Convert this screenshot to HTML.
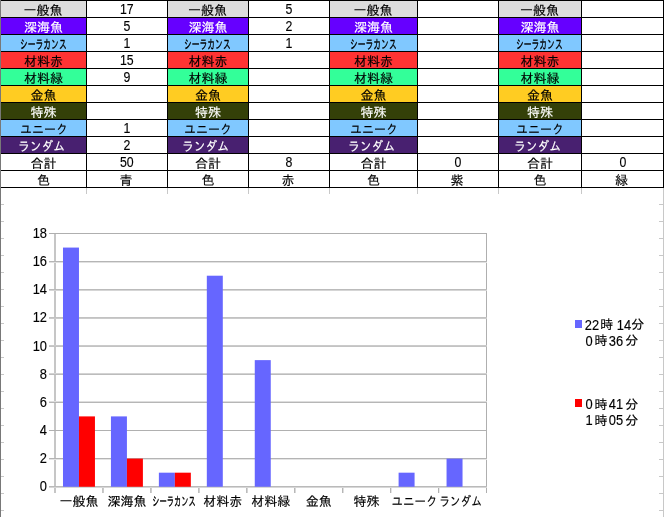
<!DOCTYPE html>
<html lang="ja"><head><meta charset="utf-8"><title>sheet</title>
<style>
html,body{margin:0;padding:0;background:#fff;}
body{width:665px;height:517px;position:relative;overflow:hidden;font-family:"Liberation Sans","IPAGothic","Noto Sans CJK JP",sans-serif;font-size:13px;color:#000;-webkit-text-stroke:0.15px;}
div{position:absolute;box-sizing:border-box;}
.c{height:16px;line-height:16px;text-align:center;white-space:nowrap;overflow:hidden;}
.c span{display:inline-block;position:relative;top:2px;}
.n{font-size:14px;}
.n span{transform:scaleX(0.88);top:0px;}
.k span{left:-1px;}
.g{background:#c8c8c8;}
.ax{background:#b8b8b8;}
.yl{font-size:14px;width:30px;text-align:right;height:14px;line-height:14px;left:16.5px;transform:scaleX(0.92);transform-origin:100% 50%;}
.xl{width:0;height:16px;line-height:16px;top:494px;white-space:nowrap;}
.xl span{position:absolute;left:0;top:0;transform:translateX(-50%);}
.ld,.lk{width:0;height:16px;line-height:16px;white-space:nowrap;}
.ld span,.lk span{position:absolute;left:0;top:0;transform:translateX(-50%);}
.ld{font-size:14px;}
.ld span{transform:translateX(-50%) scaleX(0.92);}
</style></head><body>

<div class="g" style="left:663px;top:188px;width:1px;height:329px"></div>
<div class="g" style="left:86px;top:188px;width:1px;height:6px"></div>
<div class="g" style="left:167px;top:188px;width:1px;height:6px"></div>
<div class="g" style="left:248px;top:188px;width:1px;height:6px"></div>
<div class="g" style="left:329px;top:188px;width:1px;height:6px"></div>
<div class="g" style="left:417px;top:188px;width:1px;height:6px"></div>
<div class="g" style="left:498px;top:188px;width:1px;height:6px"></div>
<div class="g" style="left:581px;top:188px;width:1px;height:6px"></div>
<div class="g" style="left:1px;top:204px;width:3px;height:1px"></div>
<div class="g" style="left:659px;top:204px;width:4px;height:1px"></div>
<div class="g" style="left:1px;top:221px;width:3px;height:1px"></div>
<div class="g" style="left:659px;top:221px;width:4px;height:1px"></div>
<div class="g" style="left:1px;top:238px;width:3px;height:1px"></div>
<div class="g" style="left:659px;top:238px;width:4px;height:1px"></div>
<div class="g" style="left:1px;top:255px;width:3px;height:1px"></div>
<div class="g" style="left:659px;top:255px;width:4px;height:1px"></div>
<div class="g" style="left:1px;top:272px;width:3px;height:1px"></div>
<div class="g" style="left:659px;top:272px;width:4px;height:1px"></div>
<div class="g" style="left:1px;top:289px;width:3px;height:1px"></div>
<div class="g" style="left:659px;top:289px;width:4px;height:1px"></div>
<div class="g" style="left:1px;top:306px;width:3px;height:1px"></div>
<div class="g" style="left:659px;top:306px;width:4px;height:1px"></div>
<div class="g" style="left:1px;top:323px;width:3px;height:1px"></div>
<div class="g" style="left:659px;top:323px;width:4px;height:1px"></div>
<div class="g" style="left:1px;top:340px;width:3px;height:1px"></div>
<div class="g" style="left:659px;top:340px;width:4px;height:1px"></div>
<div class="g" style="left:1px;top:357px;width:3px;height:1px"></div>
<div class="g" style="left:659px;top:357px;width:4px;height:1px"></div>
<div class="g" style="left:1px;top:374px;width:3px;height:1px"></div>
<div class="g" style="left:659px;top:374px;width:4px;height:1px"></div>
<div class="g" style="left:1px;top:391px;width:3px;height:1px"></div>
<div class="g" style="left:659px;top:391px;width:4px;height:1px"></div>
<div class="g" style="left:1px;top:408px;width:3px;height:1px"></div>
<div class="g" style="left:659px;top:408px;width:4px;height:1px"></div>
<div class="g" style="left:1px;top:425px;width:3px;height:1px"></div>
<div class="g" style="left:659px;top:425px;width:4px;height:1px"></div>
<div class="g" style="left:1px;top:442px;width:3px;height:1px"></div>
<div class="g" style="left:659px;top:442px;width:4px;height:1px"></div>
<div class="g" style="left:1px;top:459px;width:3px;height:1px"></div>
<div class="g" style="left:659px;top:459px;width:4px;height:1px"></div>
<div class="g" style="left:1px;top:476px;width:3px;height:1px"></div>
<div class="g" style="left:659px;top:476px;width:4px;height:1px"></div>
<div class="g" style="left:1px;top:493px;width:3px;height:1px"></div>
<div class="g" style="left:659px;top:493px;width:4px;height:1px"></div>
<div class="g" style="left:1px;top:510px;width:3px;height:1px"></div>
<div class="g" style="left:659px;top:510px;width:4px;height:1px"></div>
<div style="left:0;top:0;width:1px;height:517px;background:#787878"></div>
<div style="left:1px;top:0;width:663px;height:188px;background:#000"></div>
<div class="c" style="left:1px;top:1px;width:85px;background:#dddddd;color:#000"><span style="transform:translateX(-0.5px) scaleX(1)">一般魚</span></div>
<div class="c n" style="left:87px;top:1px;width:80px;background:#fff"><span>17</span></div>
<div class="c" style="left:168px;top:1px;width:80px;background:#dddddd;color:#000"><span style="transform:translateX(-0.5px) scaleX(1)">一般魚</span></div>
<div class="c n" style="left:249px;top:1px;width:80px;background:#fff"><span>5</span></div>
<div class="c" style="left:330px;top:1px;width:87px;background:#dddddd;color:#000"><span style="transform:translateX(-0.5px) scaleX(1)">一般魚</span></div>
<div class="c k" style="left:418px;top:1px;width:80px;background:#fff"></div>
<div class="c" style="left:499px;top:1px;width:82px;background:#dddddd;color:#000"><span style="transform:translateX(-0.5px) scaleX(1)">一般魚</span></div>
<div class="c k" style="left:582px;top:1px;width:81px;background:#fff"></div>
<div class="c" style="left:1px;top:18px;width:85px;background:#6600ff;color:#fff"><span>深海魚</span></div>
<div class="c n" style="left:87px;top:18px;width:80px;background:#fff"><span>5</span></div>
<div class="c" style="left:168px;top:18px;width:80px;background:#6600ff;color:#fff"><span>深海魚</span></div>
<div class="c n" style="left:249px;top:18px;width:80px;background:#fff"><span>2</span></div>
<div class="c" style="left:330px;top:18px;width:87px;background:#6600ff;color:#fff"><span>深海魚</span></div>
<div class="c k" style="left:418px;top:18px;width:80px;background:#fff"></div>
<div class="c" style="left:499px;top:18px;width:82px;background:#6600ff;color:#fff"><span>深海魚</span></div>
<div class="c k" style="left:582px;top:18px;width:81px;background:#fff"></div>
<div class="c" style="left:1px;top:35px;width:85px;background:#80c8ff;color:#000"><span style="transform:translateX(-0.7px) scaleX(0.6);-webkit-text-stroke:0.35px">シーラカンス</span></div>
<div class="c n" style="left:87px;top:35px;width:80px;background:#fff"><span>1</span></div>
<div class="c" style="left:168px;top:35px;width:80px;background:#80c8ff;color:#000"><span style="transform:translateX(-0.7px) scaleX(0.6);-webkit-text-stroke:0.35px">シーラカンス</span></div>
<div class="c n" style="left:249px;top:35px;width:80px;background:#fff"><span>1</span></div>
<div class="c" style="left:330px;top:35px;width:87px;background:#80c8ff;color:#000"><span style="transform:translateX(-0.7px) scaleX(0.6);-webkit-text-stroke:0.35px">シーラカンス</span></div>
<div class="c k" style="left:418px;top:35px;width:80px;background:#fff"></div>
<div class="c" style="left:499px;top:35px;width:82px;background:#80c8ff;color:#000"><span style="transform:translateX(-0.7px) scaleX(0.6);-webkit-text-stroke:0.35px">シーラカンス</span></div>
<div class="c k" style="left:582px;top:35px;width:81px;background:#fff"></div>
<div class="c" style="left:1px;top:52px;width:85px;background:#ff3333;color:#000"><span>材料赤</span></div>
<div class="c n" style="left:87px;top:52px;width:80px;background:#fff"><span>15</span></div>
<div class="c" style="left:168px;top:52px;width:80px;background:#ff3333;color:#000"><span>材料赤</span></div>
<div class="c k" style="left:249px;top:52px;width:80px;background:#fff"></div>
<div class="c" style="left:330px;top:52px;width:87px;background:#ff3333;color:#000"><span>材料赤</span></div>
<div class="c k" style="left:418px;top:52px;width:80px;background:#fff"></div>
<div class="c" style="left:499px;top:52px;width:82px;background:#ff3333;color:#000"><span>材料赤</span></div>
<div class="c k" style="left:582px;top:52px;width:81px;background:#fff"></div>
<div class="c" style="left:1px;top:69px;width:85px;background:#33ff99;color:#000"><span>材料緑</span></div>
<div class="c n" style="left:87px;top:69px;width:80px;background:#fff"><span>9</span></div>
<div class="c" style="left:168px;top:69px;width:80px;background:#33ff99;color:#000"><span>材料緑</span></div>
<div class="c k" style="left:249px;top:69px;width:80px;background:#fff"></div>
<div class="c" style="left:330px;top:69px;width:87px;background:#33ff99;color:#000"><span>材料緑</span></div>
<div class="c k" style="left:418px;top:69px;width:80px;background:#fff"></div>
<div class="c" style="left:499px;top:69px;width:82px;background:#33ff99;color:#000"><span>材料緑</span></div>
<div class="c k" style="left:582px;top:69px;width:81px;background:#fff"></div>
<div class="c" style="left:1px;top:86px;width:85px;background:#ffcc22;color:#000"><span>金魚</span></div>
<div class="c k" style="left:87px;top:86px;width:80px;background:#fff"></div>
<div class="c" style="left:168px;top:86px;width:80px;background:#ffcc22;color:#000"><span>金魚</span></div>
<div class="c k" style="left:249px;top:86px;width:80px;background:#fff"></div>
<div class="c" style="left:330px;top:86px;width:87px;background:#ffcc22;color:#000"><span>金魚</span></div>
<div class="c k" style="left:418px;top:86px;width:80px;background:#fff"></div>
<div class="c" style="left:499px;top:86px;width:82px;background:#ffcc22;color:#000"><span>金魚</span></div>
<div class="c k" style="left:582px;top:86px;width:81px;background:#fff"></div>
<div class="c" style="left:1px;top:103px;width:85px;background:#344008;color:#fff"><span>特殊</span></div>
<div class="c k" style="left:87px;top:103px;width:80px;background:#fff"></div>
<div class="c" style="left:168px;top:103px;width:80px;background:#344008;color:#fff"><span>特殊</span></div>
<div class="c k" style="left:249px;top:103px;width:80px;background:#fff"></div>
<div class="c" style="left:330px;top:103px;width:87px;background:#344008;color:#fff"><span>特殊</span></div>
<div class="c k" style="left:418px;top:103px;width:80px;background:#fff"></div>
<div class="c" style="left:499px;top:103px;width:82px;background:#344008;color:#fff"><span>特殊</span></div>
<div class="c k" style="left:582px;top:103px;width:81px;background:#fff"></div>
<div class="c" style="left:1px;top:120px;width:85px;background:#80c8ff;color:#000"><span style="transform:translateX(0px) scaleX(0.92)">ユニーク</span></div>
<div class="c n" style="left:87px;top:120px;width:80px;background:#fff"><span>1</span></div>
<div class="c" style="left:168px;top:120px;width:80px;background:#80c8ff;color:#000"><span style="transform:translateX(0px) scaleX(0.92)">ユニーク</span></div>
<div class="c k" style="left:249px;top:120px;width:80px;background:#fff"></div>
<div class="c" style="left:330px;top:120px;width:87px;background:#80c8ff;color:#000"><span style="transform:translateX(0px) scaleX(0.92)">ユニーク</span></div>
<div class="c k" style="left:418px;top:120px;width:80px;background:#fff"></div>
<div class="c" style="left:499px;top:120px;width:82px;background:#80c8ff;color:#000"><span style="transform:translateX(0px) scaleX(0.92)">ユニーク</span></div>
<div class="c k" style="left:582px;top:120px;width:81px;background:#fff"></div>
<div class="c" style="left:1px;top:137px;width:85px;background:#482070;color:#fff"><span style="transform:translateX(-2.5px) scaleX(0.9)">ランダム</span></div>
<div class="c n" style="left:87px;top:137px;width:80px;background:#fff"><span>2</span></div>
<div class="c" style="left:168px;top:137px;width:80px;background:#482070;color:#fff"><span style="transform:translateX(-2.5px) scaleX(0.9)">ランダム</span></div>
<div class="c k" style="left:249px;top:137px;width:80px;background:#fff"></div>
<div class="c" style="left:330px;top:137px;width:87px;background:#482070;color:#fff"><span style="transform:translateX(-2.5px) scaleX(0.9)">ランダム</span></div>
<div class="c k" style="left:418px;top:137px;width:80px;background:#fff"></div>
<div class="c" style="left:499px;top:137px;width:82px;background:#482070;color:#fff"><span style="transform:translateX(-2.5px) scaleX(0.9)">ランダム</span></div>
<div class="c k" style="left:582px;top:137px;width:81px;background:#fff"></div>
<div class="c" style="left:1px;top:154px;width:85px;background:#fff;color:#000"><span>合計</span></div>
<div class="c n" style="left:87px;top:154px;width:80px;background:#fff"><span>50</span></div>
<div class="c" style="left:168px;top:154px;width:80px;background:#fff;color:#000"><span>合計</span></div>
<div class="c n" style="left:249px;top:154px;width:80px;background:#fff"><span>8</span></div>
<div class="c" style="left:330px;top:154px;width:87px;background:#fff;color:#000"><span>合計</span></div>
<div class="c n" style="left:418px;top:154px;width:80px;background:#fff"><span>0</span></div>
<div class="c" style="left:499px;top:154px;width:82px;background:#fff;color:#000"><span>合計</span></div>
<div class="c n" style="left:582px;top:154px;width:81px;background:#fff"><span>0</span></div>
<div class="c" style="left:1px;top:171px;width:85px;background:#fff;color:#000"><span>色</span></div>
<div class="c k" style="left:87px;top:171px;width:80px;background:#fff"><span>青</span></div>
<div class="c" style="left:168px;top:171px;width:80px;background:#fff;color:#000"><span>色</span></div>
<div class="c k" style="left:249px;top:171px;width:80px;background:#fff"><span>赤</span></div>
<div class="c" style="left:330px;top:171px;width:87px;background:#fff;color:#000"><span>色</span></div>
<div class="c k" style="left:418px;top:171px;width:80px;background:#fff"><span>紫</span></div>
<div class="c" style="left:499px;top:171px;width:82px;background:#fff;color:#000"><span>色</span></div>
<div class="c k" style="left:582px;top:171px;width:81px;background:#fff"><span>緑</span></div>
<div style="left:54px;top:233px;width:1px;height:260px;background:rgb(198,198,198)"></div>
<div style="left:55px;top:233px;width:1px;height:260px;background:rgb(198,198,198)"></div>
<div style="left:486px;top:233px;width:1px;height:255px;background:rgb(175,175,175)"></div>
<div style="left:102px;top:487px;width:1px;height:6px;background:rgb(195,195,195)"></div>
<div style="left:103px;top:487px;width:1px;height:6px;background:rgb(202,202,202)"></div>
<div style="left:150px;top:487px;width:1px;height:6px;background:rgb(192,192,192)"></div>
<div style="left:151px;top:487px;width:1px;height:6px;background:rgb(205,205,205)"></div>
<div style="left:198px;top:487px;width:1px;height:6px;background:rgb(190,190,190)"></div>
<div style="left:199px;top:487px;width:1px;height:6px;background:rgb(209,209,209)"></div>
<div style="left:246px;top:487px;width:1px;height:6px;background:rgb(187,187,187)"></div>
<div style="left:247px;top:487px;width:1px;height:6px;background:rgb(213,213,213)"></div>
<div style="left:294px;top:487px;width:1px;height:6px;background:rgb(184,184,184)"></div>
<div style="left:295px;top:487px;width:1px;height:6px;background:rgb(217,217,217)"></div>
<div style="left:342px;top:487px;width:1px;height:6px;background:rgb(182,182,182)"></div>
<div style="left:343px;top:487px;width:1px;height:6px;background:rgb(222,222,222)"></div>
<div style="left:390px;top:487px;width:1px;height:6px;background:rgb(180,180,180)"></div>
<div style="left:391px;top:487px;width:1px;height:6px;background:rgb(228,228,228)"></div>
<div style="left:438px;top:487px;width:1px;height:6px;background:rgb(177,177,177)"></div>
<div style="left:439px;top:487px;width:1px;height:6px;background:rgb(236,236,236)"></div>
<div style="left:486px;top:487px;width:1px;height:6px;background:rgb(175,175,175)"></div>
<div style="left:49px;top:486px;width:438px;height:1px;background:rgb(186,186,186)"></div>
<div style="left:49px;top:487px;width:438px;height:1px;background:rgb(215,215,215)"></div>
<div class="yl" style="top:479px">0</div>
<div style="left:49px;top:458px;width:438px;height:1px;background:rgb(180,180,180)"></div>
<div style="left:49px;top:459px;width:438px;height:1px;background:rgb(228,228,228)"></div>
<div class="yl" style="top:451px">2</div>
<div style="left:49px;top:430px;width:438px;height:1px;background:rgb(176,176,176)"></div>
<div class="yl" style="top:423px">4</div>
<div style="left:49px;top:401px;width:438px;height:1px;background:rgb(222,222,222)"></div>
<div style="left:49px;top:402px;width:438px;height:1px;background:rgb(182,182,182)"></div>
<div class="yl" style="top:395px">6</div>
<div style="left:49px;top:373px;width:438px;height:1px;background:rgb(211,211,211)"></div>
<div style="left:49px;top:374px;width:438px;height:1px;background:rgb(188,188,188)"></div>
<div class="yl" style="top:367px">8</div>
<div style="left:49px;top:345px;width:438px;height:1px;background:rgb(202,202,202)"></div>
<div style="left:49px;top:346px;width:438px;height:1px;background:rgb(195,195,195)"></div>
<div class="yl" style="top:339px">10</div>
<div style="left:49px;top:317px;width:438px;height:1px;background:rgb(194,194,194)"></div>
<div style="left:49px;top:318px;width:438px;height:1px;background:rgb(203,203,203)"></div>
<div class="yl" style="top:310px">12</div>
<div style="left:49px;top:289px;width:438px;height:1px;background:rgb(187,187,187)"></div>
<div style="left:49px;top:290px;width:438px;height:1px;background:rgb(213,213,213)"></div>
<div class="yl" style="top:282px">14</div>
<div style="left:49px;top:261px;width:438px;height:1px;background:rgb(181,181,181)"></div>
<div style="left:49px;top:262px;width:438px;height:1px;background:rgb(225,225,225)"></div>
<div class="yl" style="top:254px">16</div>
<div style="left:49px;top:233px;width:438px;height:1px;background:rgb(175,175,175)"></div>
<div class="yl" style="top:226px">18</div>
<div class="xl" style="left:79.0px"><span>一般魚</span></div>
<div class="xl" style="left:126.9px"><span>深海魚</span></div>
<div class="xl" style="left:174.9px"><span style="transform:translateX(-50%) translateX(-1px) scaleX(0.56);-webkit-text-stroke:0.35px">シーラカンス</span></div>
<div class="xl" style="left:222.8px"><span>材料赤</span></div>
<div class="xl" style="left:270.8px"><span>材料緑</span></div>
<div class="xl" style="left:318.7px"><span>金魚</span></div>
<div class="xl" style="left:366.6px"><span>特殊</span></div>
<div class="xl" style="left:414.6px"><span style="transform:translateX(-50%) translateX(-0.5px) scaleX(0.88)">ユニーク</span></div>
<div class="xl" style="left:462.5px"><span style="transform:translateX(-50%) translateX(-2.5px) scaleX(0.82)">ランダム</span></div>
<svg width="665" height="517" viewBox="0 0 665 517" style="position:absolute;left:0;top:0"><rect x="62.99" y="247.57" width="15.98" height="239.18" fill="#6666ff"/><rect x="78.97" y="416.40" width="15.98" height="70.35" fill="#ff0000"/><rect x="110.94" y="416.40" width="15.98" height="70.35" fill="#6666ff"/><rect x="126.92" y="458.61" width="15.98" height="28.14" fill="#ff0000"/><rect x="158.88" y="472.68" width="15.98" height="14.07" fill="#6666ff"/><rect x="174.86" y="472.68" width="15.98" height="14.07" fill="#ff0000"/><rect x="206.82" y="275.71" width="15.98" height="211.04" fill="#6666ff"/><rect x="254.77" y="360.12" width="15.98" height="126.62" fill="#6666ff"/><rect x="398.60" y="472.68" width="15.98" height="14.07" fill="#6666ff"/><rect x="446.55" y="458.61" width="15.98" height="28.14" fill="#6666ff"/></svg>
<div style="left:575px;top:320px;width:7px;height:8px;background:#6666ff"></div>
<div class="ld" style="left:592.1px;top:317px"><span>22</span></div>
<div class="lk" style="left:606.7px;top:317px"><span>時</span></div>
<div class="ld" style="left:623.7px;top:317px"><span>14</span></div>
<div class="lk" style="left:637.7px;top:317px"><span>分</span></div>
<div class="ld" style="left:588.6px;top:333px"><span>0</span></div>
<div class="lk" style="left:601.0px;top:333px"><span>時</span></div>
<div class="ld" style="left:616.3px;top:333px"><span>36</span></div>
<div class="lk" style="left:631.7px;top:333px"><span>分</span></div>
<div style="left:575px;top:399px;width:7px;height:8px;background:#ff0000"></div>
<div class="ld" style="left:588.6px;top:396px"><span>0</span></div>
<div class="lk" style="left:601.0px;top:397px"><span>時</span></div>
<div class="ld" style="left:616.0px;top:396px"><span>41</span></div>
<div class="lk" style="left:631.7px;top:397px"><span>分</span></div>
<div class="ld" style="left:588.5px;top:412px"><span>1</span></div>
<div class="lk" style="left:601.0px;top:413px"><span>時</span></div>
<div class="ld" style="left:616.3px;top:412px"><span>05</span></div>
<div class="lk" style="left:631.7px;top:413px"><span>分</span></div>
</body></html>
